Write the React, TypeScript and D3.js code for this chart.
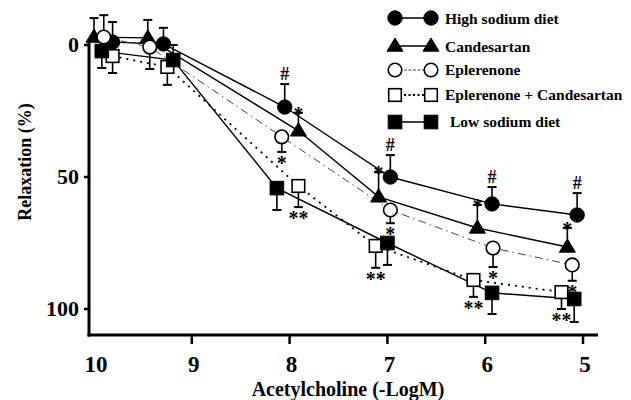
import React from "react";
import * as d3 from "d3";

const SERIES_NAMES = ["High sodium diet", "Candesartan", "Eplerenone", "Eplerenone + Candesartan", "Low sodium diet"];
const X_TICKS = [10, 9, 8, 7, 6, 5];
const Y_TICKS = [0, 50, 100];

const X_HIGH = [9.81, 9.29, 8.05, 6.97, 5.93, 5.06];
const Y_HIGH = [-1.1, -0.4, 23.5, 50, 60.2, 64.4];
const E_HIGH = [7.6, 6.1, 8.7, 8.3, 6.4, 8.3];
const D_HIGH = [-1, -1, -1, -1, -1, -1];
const M_HIGH = ["", "", "#", "#", "#", "#"];

const X_CAND = [10.0, 9.45, 7.91, 7.09, 6.08, 5.16];
const Y_CAND = [-3, -2.7, 32.5, 57.5, 69.3, 76.5];
const E_CAND = [7.2, 6.8, 6.8, 9.3, 8.7, 7.2];
const D_CAND = [-1, -1, -1, -1, -1, -1];
const M_CAND = ["", "", "*", "*", "*", "*"];

const X_EPL = [9.9, 9.43, 8.08, 6.97, 5.92, 5.11];
const Y_EPL = [-3, 0.8, 34.8, 62.5, 76.9, 83.3];
const E_EPL = [8.3, 8.3, 5.7, 5, 7.2, 6];
const D_EPL = [-1, 1, 1, 1, 1, 1];
const M_EPL = ["", "", "*", "*", "*", "*"];

const X_EC = [9.81, 9.25, 7.91, 7.12, 6.12, 5.22];
const Y_EC = [4.2, 8.3, 53.4, 76.1, 89, 93.6];
const E_EC = [6.4, 6.8, 8, 8.3, 6.4, 6.4];
const D_EC = [1, 1, 1, 1, 1, 1];
const M_EC = ["", "", "**", "**", "**", "**"];

const X_LOW = [9.92, 9.19, 8.13, 7.0, 5.93, 5.09];
const Y_LOW = [2.3, 5.7, 54.2, 75, 93.9, 96.2];
const E_LOW = [6.4, 5.7, 8.3, 8.3, 8, 8.7];
const D_LOW = [1, -1, 1, 1, 1, 1];
const M_LOW = ["", "", "", "", "", ""];

type Shape = "circle" | "triangle" | "square";
interface Series {
  name: string; xs: number[]; ys: number[]; es: number[]; ds: number[]; ms: string[];
  shape: Shape; filled: boolean; dash: string; sw: number; stroke: string;
}

const SERIES: Series[] = [
  { name: SERIES_NAMES[0], xs: X_HIGH, ys: Y_HIGH, es: E_HIGH, ds: D_HIGH, ms: M_HIGH, shape: "circle", filled: true, dash: "", sw: 1.4, stroke: "#000" },
  { name: SERIES_NAMES[1], xs: X_CAND, ys: Y_CAND, es: E_CAND, ds: D_CAND, ms: M_CAND, shape: "triangle", filled: true, dash: "", sw: 1.4, stroke: "#000" },
  { name: SERIES_NAMES[2], xs: X_EPL, ys: Y_EPL, es: E_EPL, ds: D_EPL, ms: M_EPL, shape: "circle", filled: false, dash: "8,4,1.5,4", sw: 1, stroke: "#444" },
  { name: SERIES_NAMES[3], xs: X_EC, ys: Y_EC, es: E_EC, ds: D_EC, ms: M_EC, shape: "square", filled: false, dash: "2,5", sw: 1.8, stroke: "#000" },
  { name: SERIES_NAMES[4], xs: X_LOW, ys: Y_LOW, es: E_LOW, ds: D_LOW, ms: M_LOW, shape: "square", filled: true, dash: "", sw: 1.4, stroke: "#000" },
];

const FONT = "'Liberation Serif', 'Times New Roman', serif";

function Marker({ x, y, shape, filled }: { x: number; y: number; shape: Shape; filled: boolean }) {
  const fill = filled ? "#000" : "#fff";
  const sw = filled ? 1 : 1.6;
  if (shape === "circle") return <circle cx={x} cy={y} r={filled ? 7.2 : 6.8} fill={fill} stroke="#000" strokeWidth={sw} />;
  if (shape === "triangle") {
    const s = 8;
    return <path d={`M${x},${y - s}L${x + s},${y + s * 0.65}L${x - s},${y + s * 0.65}Z`} fill={fill} stroke="#000" strokeWidth={sw} />;
  }
  const h = filled ? 6.8 : 6.3;
  return <rect x={x - h} y={y - h} width={h * 2} height={h * 2} fill={fill} stroke="#000" strokeWidth={sw} />;
}

export default function App() {
  const W = 631, H = 400;
  const x = d3.scaleLinear().domain([10, 5]).range([94, 583]);
  const y = d3.scaleLinear().domain([0, 100]).range([45, 309]);
  const line = d3.line<[number, number]>().x(d => x(d[0])).y(d => y(d[1]));
  const axisX = 89, axisY = 335;

  const legendY = [18, 46, 70, 95, 122];
  const legendTextY = [24, 52, 75, 100, 127];

  return (
    <svg width={W} height={H} style={{ position: "absolute", left: 0, top: 0, background: "#fff" }} fontFamily={FONT}>
      <rect width={W} height={H} fill="#fff" />
      {/* axes */}
      <line x1={axisX} y1={43} x2={axisX} y2={axisY + 1.5} stroke="#000" strokeWidth={3} />
      <line x1={axisX - 1.5} y1={axisY} x2={598} y2={axisY} stroke="#000" strokeWidth={3} />
      {Y_TICKS.map(t => (
        <g key={"yt" + t}>
          <line x1={axisX - 5} x2={axisX} y1={y(t)} y2={y(t)} stroke="#000" strokeWidth={2.5} />
          <text x={79} y={y(t)} dy="0.34em" textAnchor="end" fontSize={22} fontWeight="bold">{t}</text>
        </g>
      ))}
      {X_TICKS.map(t => (
        <g key={"xt" + t}>
          {t !== 10 && <line x1={x(t)} x2={x(t)} y1={axisY} y2={axisY + 9} stroke="#000" strokeWidth={2.5} />}
          <text x={x(t) + 2} y={372} textAnchor="middle" fontSize={23} fontWeight="bold">{t}</text>
        </g>
      ))}
      <text x={348} y={396} textAnchor="middle" fontSize={20} fontWeight="bold">Acetylcholine (-LogM)</text>
      <text transform="translate(31,162) rotate(-90)" textAnchor="middle" fontSize={18} fontWeight="bold">Relaxation (%)</text>

      {/* lines */}
      {SERIES.map((s, i) => (
        <path key={"l" + i} d={line(s.xs.map((v, j) => [v, s.ys[j]] as [number, number])) || ""} fill="none"
          stroke={s.stroke} strokeWidth={s.sw} strokeDasharray={s.dash || undefined} />
      ))}
      {/* error bars */}
      {SERIES.map((s, i) => s.xs.map((v, j) => {
        const px = x(v), py = y(s.ys[j]), cy = y(s.ys[j] + s.ds[j] * s.es[j]);
        return (
          <g key={`e${i}-${j}`}>
            <line x1={px} x2={px} y1={py} y2={cy} stroke="#000" strokeWidth={1.6} />
            <line x1={px - 4.5} x2={px + 4.5} y1={cy} y2={cy} stroke="#000" strokeWidth={2} />
          </g>
        );
      }))}
      {/* markers */}
      {SERIES.map((s, i) => s.xs.map((v, j) => (
        <Marker key={`m${i}-${j}`} x={x(v)} y={y(s.ys[j])} shape={s.shape} filled={s.filled} />
      )))}
      {/* significance marks */}
      {SERIES.map((s, i) => s.xs.map((v, j) => {
        const m = s.ms[j];
        if (!m) return null;
        const px = x(v), cy = y(s.ys[j] + s.ds[j] * s.es[j]);
        if (m === "#") return <text key={`a${i}-${j}`} x={px} y={cy - 4} textAnchor="middle" fontSize={18} fontWeight="bold">#</text>;
        const ty = s.ds[j] < 0 ? cy + 8 : cy + 18;
        return <text key={`a${i}-${j}`} x={px} y={ty} textAnchor="middle" fontSize={20} fontWeight="bold" letterSpacing={0}>{m}</text>;
      }))}

      {/* legend */}
      {SERIES.map((s, i) => (
        <g key={"lg" + i}>
          <line x1={395} x2={431} y1={legendY[i]} y2={legendY[i]} stroke={s.stroke} strokeWidth={s.sw} strokeDasharray={s.dash ? (i === 2 ? "3,1.5" : "2,2.5") : undefined} />
          <Marker x={395} y={legendY[i]} shape={s.shape} filled={s.filled} />
          <Marker x={431} y={legendY[i]} shape={s.shape} filled={s.filled} />
          <text x={i === 4 ? 450 : 445} y={legendTextY[i]} fontSize={15.5} fontWeight="bold">{s.name}</text>
        </g>
      ))}
    </svg>
  );
}
